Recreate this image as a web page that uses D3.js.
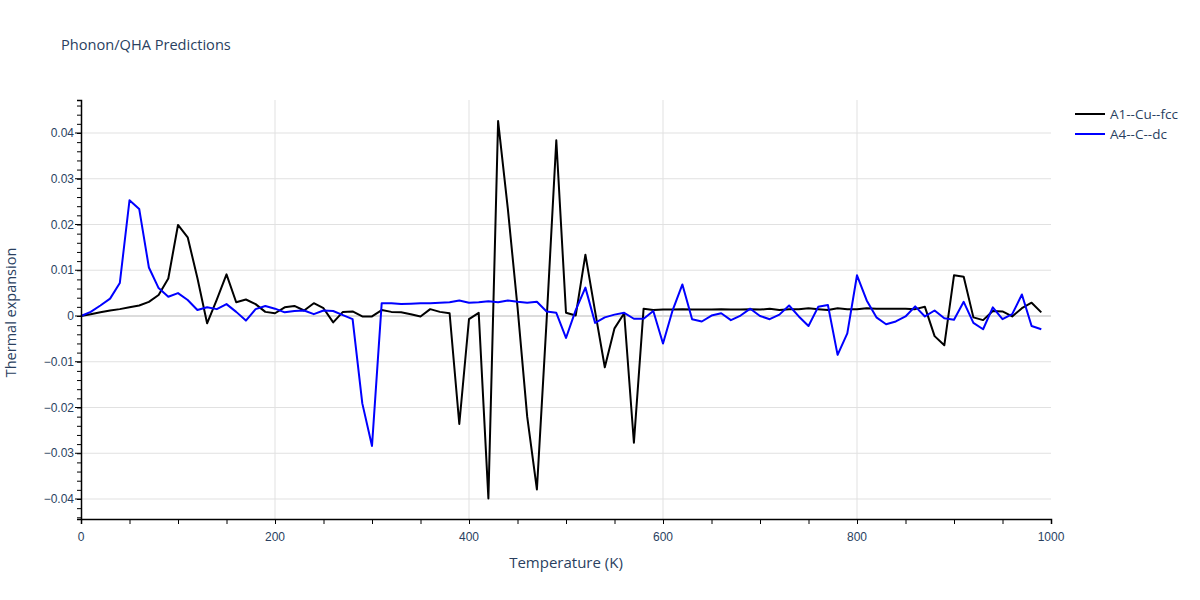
<!DOCTYPE html>
<html>
<head>
<meta charset="utf-8">
<script src="https://cdn.jsdelivr.net/npm/d3@7"></script>
<style>
body { margin: 0; background: #fff; }
svg { font-family: "Open Sans", verdana, arial, sans-serif; }
</style>
</head>
<body>
<svg id="chart" width="1200" height="600"></svg>
<script>
const temperatures = [0,10,20,30,40,50,60,70,80,90,100,110,120,130,140,150,160,170,180,190,
200,210,220,230,240,250,260,270,280,290,300,310,320,330,340,350,360,370,380,390,
400,410,420,430,440,450,460,470,480,490,500,510,520,530,540,550,560,570,580,590,
600,610,620,630,640,650,660,670,680,690,700,710,720,730,740,750,760,770,780,790,
800,810,820,830,840,850,860,870,880,890,900,910,920,930,940,950,960,970,980,990];

const cuFcc = [0,0.0004,0.0008,0.0012,0.0015,0.0019,0.0023,0.0031,0.0046,0.0082,
0.0199,0.0172,0.0083,-0.0016,0.0036,0.0091,0.003,0.0036,0.0026,0.0009,
0.0006,0.0019,0.0022,0.0012,0.0028,0.0017,-0.0014,0.0009,0.001,-0.0001,
-0.0001,0.0013,0.0009,0.0008,0.0004,-0.0001,0.0015,0.0009,0.0006,-0.0236,
-0.0007,0.0007,-0.0399,0.0426,0.0235,0.002,-0.022,-0.0379,-0.001,0.0384,
0.0007,0.0001,0.0134,0.001,-0.0112,-0.0027,0.0006,-0.0277,0.0016,0.0013,
0.0014,0.0014,0.0015,0.0014,0.0014,0.0014,0.0015,0.0014,0.0014,0.0015,
0.0014,0.0016,0.0013,0.0015,0.0015,0.0017,0.0015,0.0013,0.0017,0.0015,
0.0015,0.0017,0.0016,0.0016,0.0016,0.0016,0.0015,0.002,-0.0044,-0.0064,
0.0089,0.0086,-0.0003,-0.0009,0.0011,0.001,-0.0001,0.0017,0.0029,0.0008];

const cDc = [0,0.0009,0.0023,0.0038,0.0072,0.0253,0.0234,0.0106,0.0061,0.0042,
0.005,0.0035,0.0013,0.0019,0.0015,0.0026,0.0009,-0.001,0.0015,0.0022,
0.0016,0.0008,0.0011,0.0012,0.0004,0.0012,0.0011,0.0002,-0.0007,-0.0191,
-0.0284,0.0028,0.0028,0.0026,0.0027,0.0028,0.0028,0.0029,0.003,0.0034,
0.0029,0.003,0.0032,0.003,0.0034,0.0031,0.0029,0.0031,0.001,0.0007,
-0.0048,0.0013,0.0062,-0.0015,-0.0003,0.0003,0.0007,-0.0006,-0.0006,0.0011,
-0.006,0.0013,0.0069,-0.0007,-0.0012,0.0001,0.0006,-0.0009,0.0001,0.0016,
0,-0.0007,0.0003,0.0023,-0.0001,-0.0022,0.002,0.0024,-0.0085,-0.0038,
0.0089,0.0034,-0.0003,-0.0018,-0.0012,-0.0001,0.0021,-0.0001,0.0012,-0.0005,
-0.0008,0.0031,-0.0015,-0.0029,0.0019,-0.0007,0.0004,0.0047,-0.0022,-0.0029];

const seriesNames = ["A1--Cu--fcc", "A4--C--dc"];
const seriesColors = ["#000000", "#0000ff"];
const xTicks = [0, 200, 400, 600, 800, 1000];
const yTicks = [-0.04, -0.03, -0.02, -0.01, 0, 0.01, 0.02, 0.03, 0.04];

const svg = d3.select("#chart");
const L = 81, R = 1051, T = 100, B = 519;
const textColor = "#2a3f5f";

const x = d3.scaleLinear().domain([0, 1000]).range([L, R]);
const y = d3.scaleLinear().domain([-0.04437, 0.04721]).range([B, T]);

// grid
const g = svg.append("g");
g.selectAll(".gx").data(xTicks.filter(v => v > 0 && v < 1000)).enter().append("line")
  .attr("x1", d => x(d)).attr("x2", d => x(d)).attr("y1", T).attr("y2", B)
  .attr("stroke", "#e1e1e1").attr("stroke-width", 1);
g.selectAll(".gy").data(yTicks.filter(v => v !== 0)).enter().append("line")
  .attr("x1", L).attr("x2", R).attr("y1", d => y(d)).attr("y2", d => y(d))
  .attr("stroke", "#e1e1e1").attr("stroke-width", 1);
g.append("line").attr("x1", L).attr("x2", R).attr("y1", y(0)).attr("y2", y(0))
  .attr("stroke", "#dcdcdc").attr("stroke-width", 2);

// lines
const series = [cuFcc, cDc];
const line = d3.line().x((d, i) => x(temperatures[i])).y(d => y(d));
series.forEach((s, k) => {
  svg.append("path").datum(s).attr("d", line)
    .attr("fill", "none").attr("stroke", seriesColors[k]).attr("stroke-width", 2)
    .attr("stroke-linejoin", "round");
});

// axes
const xAxisG = svg.append("g").attr("transform", `translate(0,${B})`);
xAxisG.call(d3.axisBottom(x).tickValues(d3.range(0, 1001, 50)).tickSize(5).tickFormat(""));
xAxisG.select(".domain").attr("stroke", "#000").attr("stroke-width", 1.5);
xAxisG.selectAll(".tick line").attr("stroke", "#000");
xAxisG.selectAll(".lbl").data(xTicks).enter().append("text")
  .attr("x", d => x(d)).attr("y", 22).attr("text-anchor", "middle")
  .attr("fill", textColor).style("font-size", "12px").text(d => d);

const yAxisG = svg.append("g").attr("transform", `translate(${L},0)`);
yAxisG.call(d3.axisLeft(y).tickValues(d3.range(-44, 47, 2).map(v => v / 1000)).tickSize(4).tickFormat(""));
yAxisG.select(".domain").attr("stroke", "#000").attr("stroke-width", 1.5);
yAxisG.selectAll(".tick line").attr("stroke", "#000");
yAxisG.selectAll(".maj").data(yTicks).enter().append("line")
  .attr("x1", -6).attr("x2", 0).attr("y1", d => y(d)).attr("y2", d => y(d)).attr("stroke", "#000");
const fmt = d => d === 0 ? "0" : (d < 0 ? "\u2212" + Math.abs(d).toFixed(2) : d.toFixed(2));
yAxisG.selectAll(".lbl").data(yTicks).enter().append("text")
  .attr("x", -7).attr("y", d => y(d)).attr("dy", "0.35em").attr("text-anchor", "end")
  .attr("fill", textColor).style("font-size", "12px").text(fmt);

// titles
svg.append("text").attr("x", 61).attr("y", 50).attr("fill", textColor)
  .style("font-size", "14.6px").text("Phonon/QHA Predictions");
svg.append("text").attr("x", (L + R) / 2).attr("y", 568).attr("text-anchor", "middle")
  .attr("fill", textColor).style("font-size", "15px").text("Temperature (K)");
svg.append("text").attr("transform", `translate(16,${(T + B) / 2 + 3}) rotate(-90)`)
  .attr("text-anchor", "middle").attr("fill", textColor).style("font-size", "14.5px")
  .text("Thermal expansion");

// legend
seriesNames.forEach((n, k) => {
  const ly = 114 + k * 20;
  svg.append("line").attr("x1", 1075).attr("x2", 1105).attr("y1", ly).attr("y2", ly)
    .attr("stroke", seriesColors[k]).attr("stroke-width", 2);
  svg.append("text").attr("x", 1110).attr("y", ly).attr("dy", "0.35em")
    .attr("fill", textColor).style("font-size", "13.5px").text(n);
});
</script>
</body>
</html>
